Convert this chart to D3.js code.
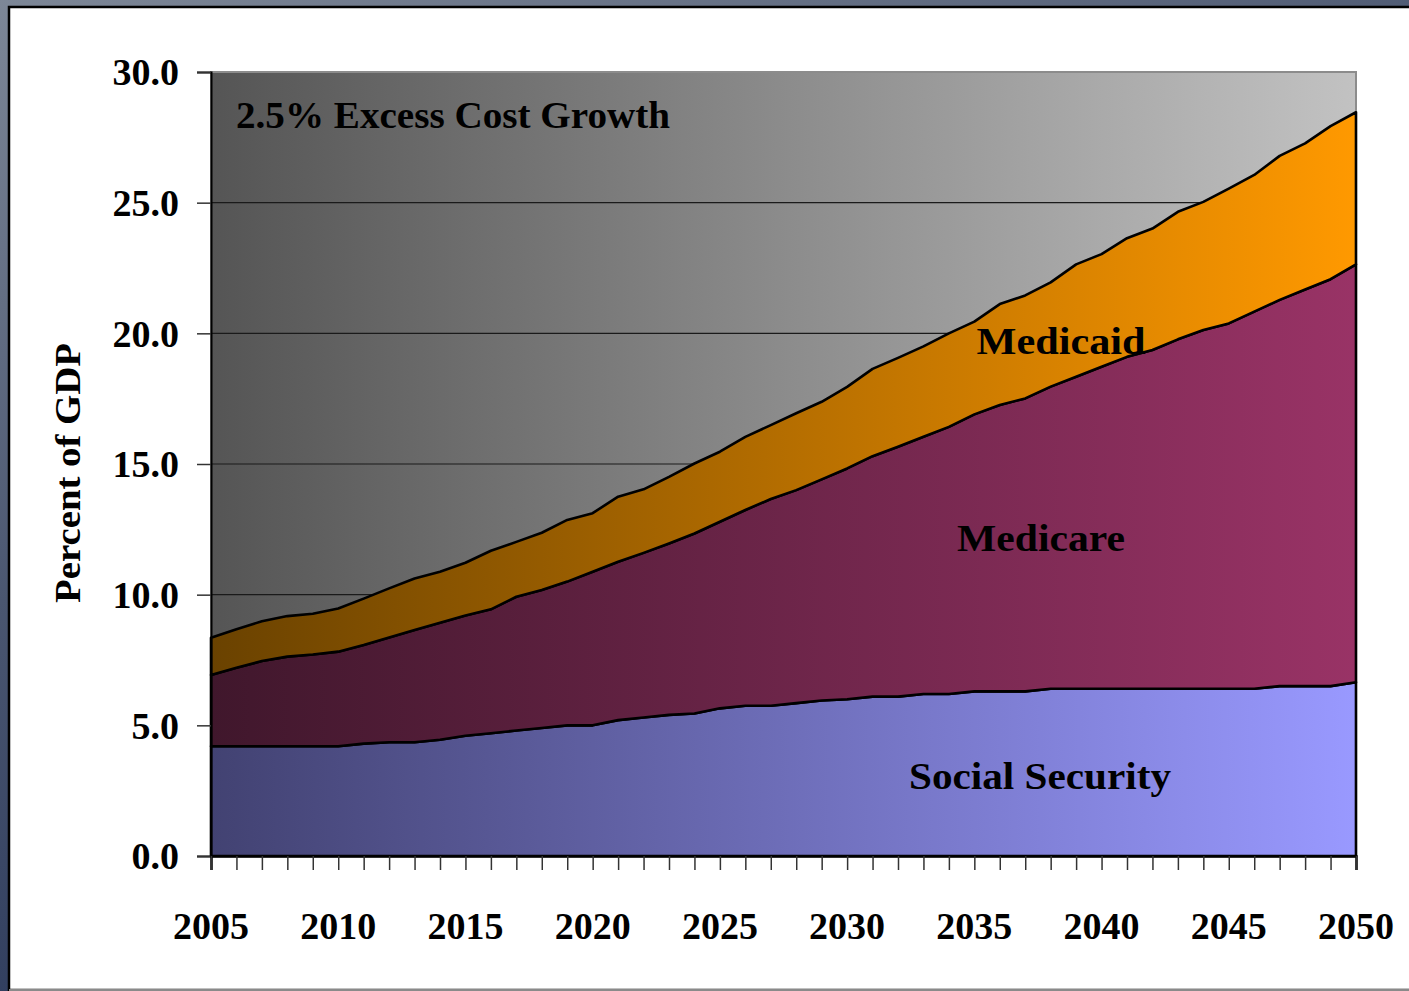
<!DOCTYPE html>
<html>
<head>
<meta charset="utf-8">
<script src="https://cdn.jsdelivr.net/npm/d3@7/dist/d3.min.js"></script>
<style>
  html, body { margin: 0; padding: 0; }
  body { width: 1409px; height: 991px; overflow: hidden;
         background: linear-gradient(160deg, #7d8797 0%, #4a5670 40%, #13224a 100%); }
  svg { display: block; }
</style>
</head>
<body>
<svg id="chart" width="1409" height="991"></svg>
<script>
// ---- data ----
const years = d3.range(2005, 2051);
const socialSecurity = [4.2,4.2,4.2,4.2,4.2,4.2,4.3,4.35,4.35,4.45,4.6,4.7,4.8,4.9,5.0,5.0,5.2,5.3,5.4,5.45,
  5.65,5.75,5.75,5.85,5.95,6.0,6.1,6.1,6.2,6.2,6.3,6.3,6.3,6.4,6.4,6.4,6.4,6.4,6.4,6.4,6.4,6.4,6.5,6.5,6.5,6.65];
const medicare = [2.73,3.0,3.26,3.43,3.51,3.62,3.77,4.01,4.3,4.48,4.6,4.74,5.12,5.28,5.5,5.88,6.06,6.3,6.56,6.89,
  7.14,7.49,7.91,8.15,8.46,8.83,9.2,9.56,9.84,10.22,10.6,10.96,11.21,11.56,11.94,12.32,12.7,12.96,13.37,13.73,13.98,14.43,14.78,15.18,15.57,15.99];
const medicaid = [1.42,1.48,1.52,1.55,1.56,1.65,1.78,1.88,1.97,1.95,2.02,2.24,2.1,2.19,2.36,2.24,2.49,2.43,2.55,2.68,
  2.68,2.8,2.83,2.94,2.97,3.12,3.34,3.4,3.46,3.58,3.55,3.86,3.94,3.99,4.3,4.31,4.54,4.65,4.88,4.9,5.16,5.23,5.51,5.59,5.86,5.82];
const seriesNames = ["Social Security", "Medicare", "Medicaid"];
const yTicks = [0, 5, 10, 15, 20, 25, 30];
const xLabelYears = [2005, 2010, 2015, 2020, 2025, 2030, 2035, 2040, 2045, 2050];
const title = "2.5% Excess Cost Growth";
const yTitle = "Percent of GDP";

// ---- layout ----
const svg = d3.select("#chart");
const plot = { left: 211, top: 72, right: 1356, bottom: 856 };
const W = plot.right - plot.left, H = plot.bottom - plot.top;
const font = "'Liberation Serif', 'Times New Roman', serif";

const x = d3.scaleLinear().domain([2005, 2050]).range([0, W]);
const y = d3.scaleLinear().domain([0, 30]).range([H, 0]);

// white panel
svg.append("rect").attr("x", 9).attr("y", 7).attr("width", 1409).attr("height", 983)
  .attr("fill", "#ffffff").attr("stroke", "#000").attr("stroke-width", 2.5);
svg.append("line").attr("x1", 9).attr("x2", 1409).attr("y1", 990).attr("y2", 990)
  .attr("stroke", "#8a8a8a").attr("stroke-width", 2);

const defs = svg.append("defs");
function grad(id, c0, c1) {
  const g = defs.append("linearGradient").attr("id", id)
    .attr("gradientUnits", "userSpaceOnUse").attr("x1", 0).attr("x2", W).attr("y1", 0).attr("y2", 0);
  g.append("stop").attr("offset", "0%").attr("stop-color", c0);
  g.append("stop").attr("offset", "100%").attr("stop-color", c1);
}
grad("bgGrad", "#555555", "#c2c2c2");
grad("ssGrad", "#424272", "#9999ff");
grad("mcrGrad", "#40172c", "#993366");
grad("mcdGrad", "#6a4200", "#ff9900");
const fills = ["url(#ssGrad)", "url(#mcrGrad)", "url(#mcdGrad)"];

const g = svg.append("g").attr("transform", `translate(${plot.left},${plot.top})`);

// plot background
g.append("rect").attr("width", W).attr("height", H).attr("fill", "url(#bgGrad)")
  .attr("stroke", "#8c8c8c").attr("stroke-width", 2);

// gridlines
g.append("g").selectAll("line").data(yTicks.filter(t => t > 0 && t < 30)).join("line")
  .attr("x1", 0).attr("x2", W).attr("y1", d => y(d)).attr("y2", d => y(d))
  .attr("stroke", "#1a1a1a").attr("stroke-width", 1.2);

// stacked areas
const table = years.map((yr, i) => ({ year: yr, "Social Security": socialSecurity[i], "Medicare": medicare[i], "Medicaid": medicaid[i] }));
const stack = d3.stack().keys(seriesNames)(table);
const area = d3.area().x(d => x(d.data.year)).y0(d => y(d[0])).y1(d => y(d[1]));
g.append("g").selectAll("path").data(stack).join("path")
  .attr("d", area).attr("fill", (d, i) => fills[i])
  .attr("stroke", "#000").attr("stroke-width", 2.6).attr("stroke-linejoin", "round");

// y axis
const yAxis = d3.axisLeft(y).tickValues(yTicks).tickSize(14).tickPadding(18).tickFormat(d3.format(".1f"));
const ya = g.append("g").call(yAxis);
ya.select(".domain").attr("stroke", "#000").attr("stroke-width", 2);
ya.selectAll(".tick line").attr("stroke", "#333").attr("stroke-width", 1.5);
ya.selectAll(".tick text").attr("font-family", font).attr("font-weight", "bold")
  .attr("font-size", 38).attr("fill", "#000").attr("dy", "0.34em");

// x axis
const xAxis = d3.axisBottom(x).tickValues(years).tickSize(14).tickPadding(0).tickFormat("");
const xa = g.append("g").attr("transform", `translate(0,${H})`).call(xAxis);
xa.select(".domain").attr("stroke", "#000").attr("stroke-width", 2.5);
xa.selectAll(".tick line").attr("stroke", "#333").attr("stroke-width", 1.5);
g.append("g").selectAll("text").data(xLabelYears).join("text")
  .attr("x", d => x(d)).attr("y", H + 83).attr("text-anchor", "middle")
  .attr("font-family", font).attr("font-weight", "bold").attr("font-size", 38).attr("fill", "#000")
  .text(d => d);

// texts
function label(txt, cx, by, size, len) {
  return svg.append("text").attr("x", cx).attr("y", by).attr("text-anchor", "middle")
    .attr("font-family", font).attr("font-weight", "bold").attr("font-size", size).attr("fill", "#000")
    .attr("textLength", len).attr("lengthAdjust", "spacingAndGlyphs").text(txt);
}
label(title, 453, 128, 37, 434);
label("Medicaid", 1061, 354, 38, 169);
label("Medicare", 1041, 551, 38, 168);
label("Social Security", 1040, 789, 38, 262);
svg.append("text").attr("transform", "translate(80,473) rotate(-90)").attr("text-anchor", "middle")
  .attr("font-family", font).attr("font-weight", "bold").attr("font-size", 36).attr("fill", "#000")
  .attr("textLength", 260).attr("lengthAdjust", "spacingAndGlyphs").text(yTitle);
</script>
</body>
</html>
